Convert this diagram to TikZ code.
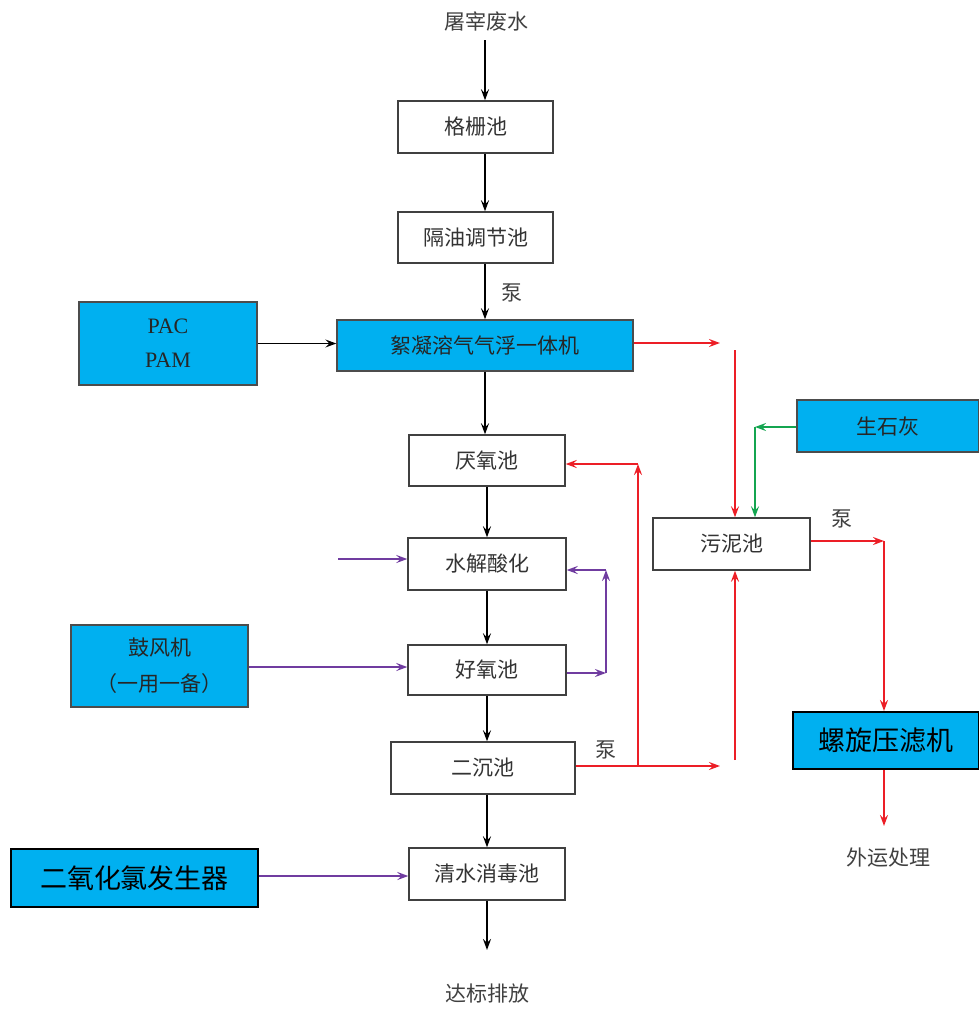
\documentclass[tikz,border=0pt]{standalone}
\usepackage{fontspec}
\setmainfont{Noto Sans CJK SC}
\newfontfamily\latinserif{Liberation Serif}
\usepackage{tikz}
\usetikzlibrary{arrows.meta}

\definecolor{boxblue}{RGB}{0,176,240}
\definecolor{flowred}{RGB}{236,30,38}
\definecolor{flowpurple}{RGB}{112,60,160}
\definecolor{flowgreen}{RGB}{20,165,80}

\begin{document}
\begin{tikzpicture}[x=1pt,y=-1pt,>={Stealth[length=11pt,width=8pt,inset=4pt]}]
    \tikzstyle{every node}=[font=\fontsize{21}{25}\selectfont, text=black!80]
    \tikzstyle{pool}=[draw=black!75, fill=white, line width=1.4pt, inner sep=0pt]
    \tikzstyle{dosing}=[pool, fill=boxblue, draw=black!70, text=black!85]
    \tikzstyle{device}=[pool, fill=boxblue, draw=black, line width=2pt, text=black, font=\fontsize{27}{31}\selectfont]
    \tikzstyle{flow}=[->, line width=2pt, draw=black]
    \tikzstyle{red flow}=[flow, draw=flowred]
    \tikzstyle{purple flow}=[flow, draw=flowpurple]
    \tikzstyle{green flow}=[flow, draw=flowgreen]
    \tikzstyle{note}=[text=black!75]

    \useasboundingbox (0,0) rectangle (979,1010);

    % main treatment line
    \coordinate (axis) at (485,0);
    \node[note] (raw) at (486,21) {屠宰废水};
    \node[pool, minimum width=155pt, minimum height=52pt] (grid) at (475.5,127) {格栅池};
    \node[pool, minimum width=155pt, minimum height=51pt] (oil) at (475.5,237.5) {隔油调节池};
    \node[dosing, minimum width=296pt, minimum height=51pt] (flot) at (485,345.5) {絮凝溶气气浮一体机};
    \node[pool, minimum width=156pt, minimum height=51pt] (ana) at (487,460.5) {厌氧池};
    \node[pool, minimum width=158pt, minimum height=52pt] (hyd) at (487,564) {水解酸化};
    \node[pool, minimum width=158pt, minimum height=50pt] (aer) at (487,670) {好氧池};
    \node[pool, minimum width=184pt, minimum height=52pt] (sec) at (483,768) {二沉池};
    \node[pool, minimum width=156pt, minimum height=52pt] (dis) at (487,874) {清水消毒池};
    \node[note] (out) at (487,994) {达标排放};

    % dosing and blowers
    \node[dosing, minimum width=178pt, minimum height=83pt, align=center,
          font=\latinserif\fontsize{22}{34}\selectfont] (pac) at (168,343.5) {PAC\\PAM};
    \node[dosing, minimum width=177pt, minimum height=82pt, align=center,
          font=\fontsize{21}{36}\selectfont] (blow) at (159.5,666) {鼓风机\\（一用一备）};
    \node[device, minimum width=247pt, minimum height=58pt] (clo) at (134.5,878) {二氧化氯发生器};

    % sludge line
    \node[dosing, minimum width=182pt, minimum height=52pt] (lime) at (888,426) {生石灰};
    \node[pool, minimum width=157pt, minimum height=52pt] (sludge) at (731.5,544) {污泥池};
    \node[device, minimum width=186pt, minimum height=57pt] (press) at (886,740.5) {螺旋压滤机};
    \node[note] (haul) at (888,858) {外运处理};

    % pump labels
    \node[note] at (512,293) {泵};
    \node[note] at (606,750) {泵};
    \node[note] at (842,519) {泵};

    % main flow
    \draw[flow] (axis |- 0,40) -- (axis |- grid.north);
    \draw[flow] (axis |- grid.south) -- (axis |- oil.north);
    \draw[flow] (axis |- oil.south) -- (axis |- flot.north);
    \draw[flow] (axis |- flot.south) -- (axis |- ana.north);
    \draw[flow] (ana.south) -- (hyd.north);
    \draw[flow] (hyd.south) -- (aer.north);
    \draw[flow] (aer.south) -- (aer.south |- sec.north);
    \draw[flow] (dis.north |- sec.south) -- (dis.north);
    \draw[flow] (dis.south) -- (dis.south |- 0,950);

    % dosing
    \draw[->, line width=1.2pt] (pac.east) -- (flot.west |- pac.east);
    \coordinate (h1) at (338,559);
    \draw[purple flow] (h1) -- (h1 -| hyd.west);
    \draw[purple flow] (blow.east |- 0,667) -- (aer.west |- 0,667);
    \draw[purple flow] (clo.east |- 0,876) -- (dis.west |- 0,876);

    % aeration return
    \coordinate (p1) at (606,673);
    \coordinate (p2) at (606,570);
    \draw[purple flow] (aer.east |- p1) -- (p1);
    \draw[purple flow] (p1) -- (p2);
    \draw[purple flow] (p2) -- (hyd.east |- p2);

    % scum to sludge tank
    \coordinate (r1) at (720,343);
    \coordinate (r2) at (735,350);
    \draw[red flow] (flot.east |- r1) -- (r1);
    \draw[red flow] (r2) -- (r2 |- sludge.north);

    % lime
    \coordinate (g1) at (755,427);
    \draw[green flow] (lime.west |- g1) -- (g1);
    \draw[green flow] (g1) -- (g1 |- sludge.north);

    % sludge return and excess sludge
    \coordinate (r3) at (638,766);
    \coordinate (r4) at (638,464);
    \coordinate (r5) at (720,766);
    \coordinate (r6) at (735,760);
    \draw[red flow] (sec.east |- r3) -- (r5);
    \draw[red flow] (r3) -- (r4);
    \draw[red flow] (r4) -- (ana.east |- r4);
    \draw[red flow] (r6) -- (r6 |- sludge.south);

    % dewatering
    \coordinate (r7) at (884,541);
    \draw[red flow] (sludge.east |- r7) -- (r7);
    \draw[red flow] (r7) -- (r7 |- press.north);
    \draw[red flow] (press.south -| r7) -- (r7 |- 0,826);
\end{tikzpicture}
\end{document}
